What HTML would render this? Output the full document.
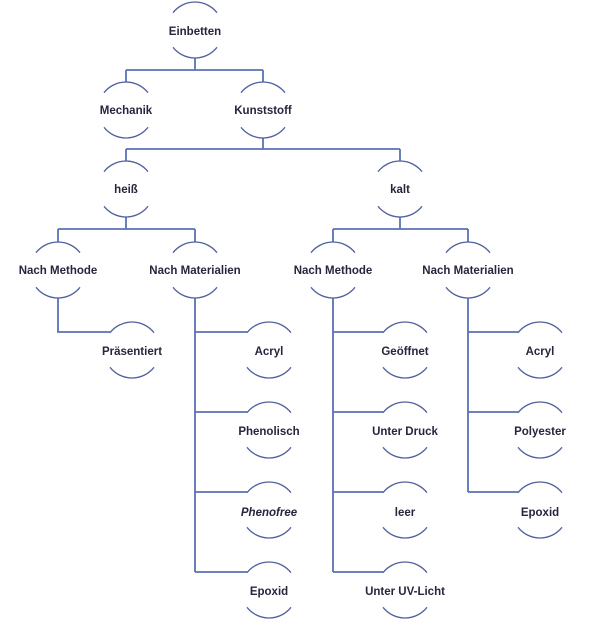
<!DOCTYPE html>
<html><head><meta charset="utf-8"><style>
html,body{margin:0;padding:0;background:#fff;}
svg{display:block;}
text{font-family:"Liberation Sans",sans-serif;font-size:11.5px;font-weight:bold;fill:#26263d;text-anchor:middle;dominant-baseline:central;}
</style></head><body>
<svg width="600" height="622" viewBox="0 0 600 622" xmlns="http://www.w3.org/2000/svg">
<g fill="none" stroke="#5a72b5" stroke-width="1.8">
<path d="M195 58V70M126 70H263M126 70V82M263 70V82"/>
<path d="M263 138V149M126 149H400M126 149V161M400 149V161"/>
<path d="M126 217V229M58 229H195M58 229V242M195 229V242"/>
<path d="M400 217V229M333 229H468M333 229V242M468 229V242"/>
<path d="M58 298V332H110"/>
<path d="M195 298V572M195 332H247M195 412H247M195 492H247M195 572H247"/>
<path d="M333 298V572M333 332H383M333 412H383M333 492H383M333 572H383"/>
<path d="M468 298V492M468 332H518M468 412H518M468 492H518"/>
</g>
<g>
<text x="195" y="32">Einbetten</text>
<text x="126" y="111">Mechanik</text>
<text x="263" y="111">Kunststoff</text>
<text x="126" y="190">heiß</text>
<text x="400" y="190">kalt</text>
<text x="58" y="271">Nach Methode</text>
<text x="195" y="271">Nach Materialien</text>
<text x="333" y="271">Nach Methode</text>
<text x="468" y="271">Nach Materialien</text>
<text x="132" y="352">Präsentiert</text>
<text x="269" y="352">Acryl</text>
<text x="269" y="432">Phenolisch</text>
<text x="269" y="513" font-style="italic">Phenofree</text>
<text x="269" y="592">Epoxid</text>
<text x="405" y="352">Geöffnet</text>
<text x="405" y="432">Unter Druck</text>
<text x="405" y="513">leer</text>
<text x="405" y="592">Unter UV-Licht</text>
<text x="540" y="352">Acryl</text>
<text x="540" y="432">Polyester</text>
<text x="540" y="513">Epoxid</text>
</g>
<g fill="none" stroke="#51619f" stroke-width="1.3">
<path d="M173 12.7A28 28 0 0 1 217 12.7M173 47.3A28 28 0 0 0 217 47.3"/>
<path d="M104 92.7A28 28 0 0 1 148 92.7M104 127.3A28 28 0 0 0 148 127.3"/>
<path d="M241 92.7A28 28 0 0 1 285 92.7M241 127.3A28 28 0 0 0 285 127.3"/>
<path d="M104 171.7A28 28 0 0 1 148 171.7M104 206.3A28 28 0 0 0 148 206.3"/>
<path d="M378 171.7A28 28 0 0 1 422 171.7M378 206.3A28 28 0 0 0 422 206.3"/>
<path d="M36 252.7A28 28 0 0 1 80 252.7M36 287.3A28 28 0 0 0 80 287.3"/>
<path d="M173 252.7A28 28 0 0 1 217 252.7M173 287.3A28 28 0 0 0 217 287.3"/>
<path d="M311 252.7A28 28 0 0 1 355 252.7M311 287.3A28 28 0 0 0 355 287.3"/>
<path d="M446 252.7A28 28 0 0 1 490 252.7M446 287.3A28 28 0 0 0 490 287.3"/>
<path d="M110 332.7A28 28 0 0 1 154 332.7M110 367.3A28 28 0 0 0 154 367.3"/>
<path d="M247 332.7A28 28 0 0 1 291 332.7M247 367.3A28 28 0 0 0 291 367.3"/>
<path d="M247 412.7A28 28 0 0 1 291 412.7M247 447.3A28 28 0 0 0 291 447.3"/>
<path d="M247 492.7A28 28 0 0 1 291 492.7M247 527.3A28 28 0 0 0 291 527.3"/>
<path d="M247 572.7A28 28 0 0 1 291 572.7M247 607.3A28 28 0 0 0 291 607.3"/>
<path d="M383 332.7A28 28 0 0 1 427 332.7M383 367.3A28 28 0 0 0 427 367.3"/>
<path d="M383 412.7A28 28 0 0 1 427 412.7M383 447.3A28 28 0 0 0 427 447.3"/>
<path d="M383 492.7A28 28 0 0 1 427 492.7M383 527.3A28 28 0 0 0 427 527.3"/>
<path d="M383 572.7A28 28 0 0 1 427 572.7M383 607.3A28 28 0 0 0 427 607.3"/>
<path d="M518 332.7A28 28 0 0 1 562 332.7M518 367.3A28 28 0 0 0 562 367.3"/>
<path d="M518 412.7A28 28 0 0 1 562 412.7M518 447.3A28 28 0 0 0 562 447.3"/>
<path d="M518 492.7A28 28 0 0 1 562 492.7M518 527.3A28 28 0 0 0 562 527.3"/>
</g>
</svg>
</body></html>
